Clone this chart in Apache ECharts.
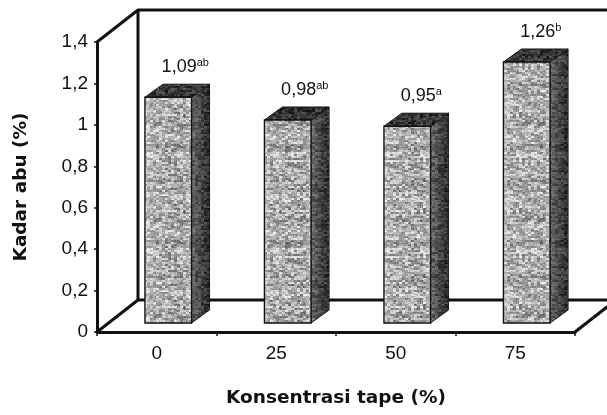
<!DOCTYPE html>
<html>
<head>
<meta charset="utf-8">
<style>
  html, body { margin: 0; padding: 0; background: #fff; }
  #chart { width: 607px; height: 415px; }
</style>
<script src="https://cdn.jsdelivr.net/npm/echarts@6/dist/echarts.min.js"></script>
</head>
<body>
<div id="chart"></div>
<script>
// Kadar abu per konsentrasi tape
const categories = ['0', '25', '50', '75'];
const kadarAbu = [1.09, 0.98, 0.95, 1.26];
const notasi = ['ab', 'ab', 'a', 'b'];
const yMin = 0, yMax = 1.4, yStep = 0.2;

const FONT = "'Liberation Sans', Arial, sans-serif";
const TITLE_FONT = "'DejaVu Sans', sans-serif";
const INK = '#111';

// deterministic grain for the bar faces (blocky, slightly streaked horizontally)
function hash(n) {
  const s = Math.sin(n * 12.9898 + 78.233) * 43758.5453;
  return s - Math.floor(s);
}
function grainCanvas(base, amp, alpha, seed) {
  const size = 96;
  const c = document.createElement('canvas');
  c.width = size; c.height = size;
  const ctx = c.getContext('2d');
  const img = ctx.createImageData(size, size);
  for (let y = 0; y < size; y++) {
    const row = (hash(Math.floor(y / 2) * 3.1 + seed) - 0.5) * 0.5;
    for (let x = 0; x < size; x++) {
      const cell = Math.floor(x / 3) * 131.7 + Math.floor(y / 2) * 17.3;
      const fine = hash(x * 7.3 + y * 53.1 + seed) - 0.5;
      const n = (hash(cell + seed) - 0.5) * 1.6 + fine * 0.7 + row;
      const g = Math.max(0, Math.min(255, Math.round(base + amp * n)));
      const i = (y * size + x) * 4;
      img.data[i] = g; img.data[i + 1] = g; img.data[i + 2] = g;
      img.data[i + 3] = alpha;
    }
  }
  ctx.putImageData(img, 0, 0);
  return c;
}
const frontGrain = grainCanvas(168, 70, 255, 1);
const sideGrain = grainCanvas(110, 110, 80, 7);
const topGrain = grainCanvas(55, 40, 255, 13);

// depth of the box (walls) and of the bars, in pixels
const WALL_DX = 41, WALL_DY = -32;
const BAR_OFF_X = 11.5, BAR_OFF_Y = -9;
const BAR_DX = 18, BAR_DY = -13;

const lineStyle = { stroke: INK, lineWidth: 3, fill: null, lineJoin: 'round' };

function renderWalls(params, api) {
  const cs = params.coordSys;
  const x0 = cs.x, x1 = cs.x + cs.width;
  const yTop = api.coord([0, yMax])[1];
  const yBot = api.coord([0, yMin])[1];
  const dx = WALL_DX, dy = WALL_DY;
  return {
    type: 'group',
    children: [
      { type: 'polyline', shape: { points: [[x0, yTop], [x0 + dx, yTop + dy], [x1 + dx, yTop + dy]] }, style: lineStyle },
      { type: 'line', shape: { x1: x0 + dx, y1: yTop + dy, x2: x0 + dx, y2: yBot + dy }, style: lineStyle },
      { type: 'polyline', shape: { points: [[x0, yBot], [x0 + dx, yBot + dy], [x1 + dx, yBot + dy]] }, style: lineStyle },
      { type: 'line', shape: { x1: x1, y1: yBot, x2: x1 + dx, y2: yBot + dy }, style: lineStyle },
      { type: 'line', shape: { x1: x1 + dx, y1: yTop + dy, x2: x1 + dx, y2: yBot + dy }, style: lineStyle }
    ]
  };
}

function renderBar(params, api) {
  const idx = api.value(0);
  const val = api.value(1);
  const base = api.coord([idx, 0]);
  const top = api.coord([idx, val]);
  const band = api.size([1, 0])[0];
  const w = band * 0.39;
  const cx = base[0] + BAR_OFF_X;
  const xl = cx - w / 2, xr = cx + w / 2;
  const yb = base[1] + BAR_OFF_Y;
  const yt = top[1] + BAR_OFF_Y;
  const dx = BAR_DX, dy = BAR_DY;

  const sidePts = [[xr, yt], [xr + dx, yt + dy], [xr + dx, yb + dy], [xr, yb]];
  const topPts = [[xl, yt], [xl + dx, yt + dy], [xr + dx, yt + dy], [xr, yt]];

  const numText = val.toFixed(2).replace('.', ',');
  const sup = notasi[params.dataIndex];
  const labelX = cx + dx / 2 + 2 + sup.length * 3;

  return {
    type: 'group',
    children: [
      {
        type: 'polygon', shape: { points: sidePts },
        style: {
          fill: new echarts.graphic.LinearGradient(0, 0, 1, 0, [
            { offset: 0, color: '#6a6a6a' },
            { offset: 0.55, color: '#303030' },
            { offset: 1, color: '#0e0e0e' }
          ]),
          stroke: INK, lineWidth: 1
        }
      },
      { type: 'polygon', shape: { points: sidePts }, style: { fill: { image: sideGrain, repeat: 'repeat' } } },
      {
        type: 'polygon', shape: { points: topPts },
        style: { fill: { image: topGrain, repeat: 'repeat' }, stroke: INK, lineWidth: 1 }
      },
      {
        type: 'rect', shape: { x: xl, y: yt, width: w, height: yb - yt },
        style: { fill: { image: frontGrain, repeat: 'repeat' } }
      },
      {
        type: 'rect', shape: { x: xl, y: yt, width: w, height: yb - yt },
        style: {
          fill: new echarts.graphic.LinearGradient(0, 0, 1, 0, [
            { offset: 0, color: 'rgba(255,255,255,0.45)' },
            { offset: 0.12, color: 'rgba(255,255,255,0.1)' },
            { offset: 0.85, color: 'rgba(255,255,255,0)' },
            { offset: 1, color: 'rgba(255,255,255,0.3)' }
          ]),
          stroke: INK, lineWidth: 1.4
        }
      },
      {
        type: 'text',
        style: {
          text: '{n|' + numText + '}{s|' + sup + '}',
          x: labelX, y: yt - 20,
          align: 'center', verticalAlign: 'bottom',
          fill: INK,
          rich: {
            n: { fontFamily: FONT, fontSize: 18, lineHeight: 20, fill: INK },
            s: { fontFamily: FONT, fontSize: 11, lineHeight: 12, verticalAlign: 'top', fill: INK }
          }
        }
      }
    ]
  };
}

const chart = echarts.init(document.getElementById('chart'), null, { renderer: 'canvas' });
chart.setOption({
  animation: false,
  backgroundColor: '#fff',
  grid: { left: 97, right: 32, top: 42, bottom: 83, containLabel: false },
  xAxis: {
    type: 'category',
    data: categories,
    name: 'Konsentrasi tape (%)',
    nameLocation: 'middle',
    nameGap: 57,
    nameTextStyle: { fontFamily: TITLE_FONT, fontWeight: 'bold', fontSize: 18.5, color: INK },
    axisLine: { lineStyle: { color: INK, width: 3 } },
    axisTick: { show: true, length: 4, lineStyle: { color: INK, width: 1.5 } },
    axisLabel: { fontFamily: FONT, fontSize: 19, color: INK, margin: 12 },
    splitLine: { show: false }
  },
  yAxis: {
    type: 'value',
    min: yMin, max: yMax, interval: yStep,
    name: 'Kadar abu (%)',
    nameLocation: 'middle',
    nameGap: 66,
    nameTextStyle: { fontFamily: TITLE_FONT, fontWeight: 'bold', fontSize: 18.5, color: INK },
    axisLine: { show: true, lineStyle: { color: INK, width: 3 } },
    axisTick: { show: true, length: 3, lineStyle: { color: INK, width: 1.5 } },
    axisLabel: {
      fontFamily: FONT, fontSize: 19, color: INK, margin: 9,
      formatter: v => String(Math.round(v * 10) / 10).replace('.', ',')
    },
    splitLine: { show: false }
  },
  series: [
    { type: 'custom', name: 'dinding', renderItem: renderWalls, data: [[0, 0]], silent: true, z: 1 },
    { type: 'custom', name: 'Kadar abu', renderItem: renderBar, data: kadarAbu.map((v, i) => [i, v]), z: 3 }
  ]
});
</script>
</body>
</html>
